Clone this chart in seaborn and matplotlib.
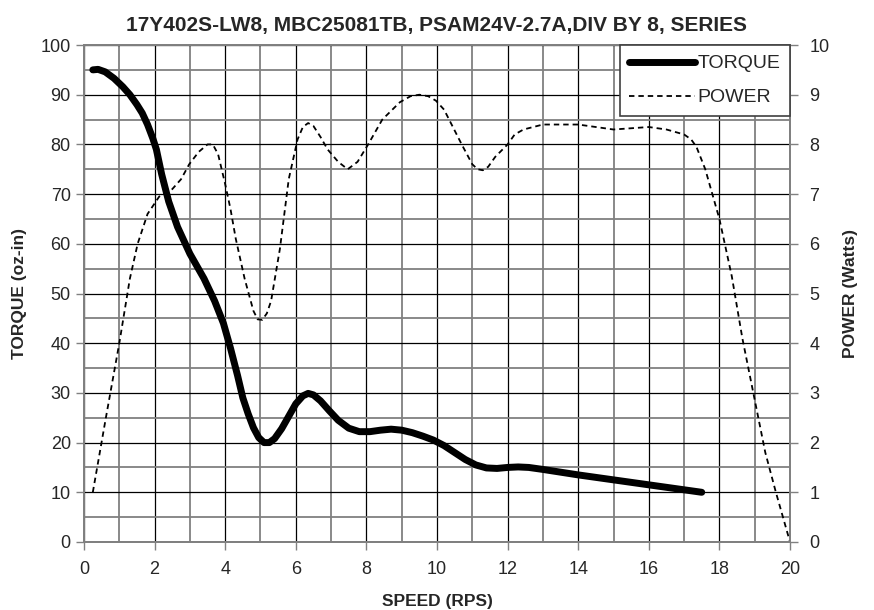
import seaborn as sns
import matplotlib.pyplot as plt
import pandas as pd
from matplotlib.ticker import MultipleLocator

# torque curve (oz-in) vs speed (RPS)
torque_speed = [0.25, 0.4, 0.6, 0.85, 1.1, 1.3, 1.5, 1.65, 1.8, 1.95, 2.05, 2.2, 2.4, 2.65,
                3.0, 3.4, 3.7, 3.95, 4.15, 4.35, 4.5, 4.65, 4.8, 4.95, 5.1, 5.25, 5.4, 5.6,
                5.8, 6.0, 6.2, 6.35, 6.5, 6.7, 6.95, 7.2, 7.5, 7.8, 8.1, 8.4, 8.7, 9.0,
                9.3, 9.6, 9.9, 10.2, 10.5, 10.8, 11.1, 11.4, 11.7, 12.0, 12.3, 12.6, 13.0,
                14.0, 15.0, 16.0, 17.0, 17.5]
torque = [95, 95.1, 94.6, 93.3, 91.6, 90, 88, 86.3, 84, 81.2, 79, 74, 68.5, 63.4,
          58, 53, 48.5, 44, 39, 33.5, 29, 25.8, 23, 21, 20, 20, 20.8, 22.8,
          25.3, 27.8, 29.4, 29.9, 29.6, 28.4, 26.4, 24.5, 22.9, 22.2, 22.2, 22.5, 22.7, 22.5,
          22, 21.3, 20.5, 19.4, 18, 16.6, 15.5, 14.9, 14.8, 15, 15.1, 15, 14.6,
          13.5, 12.5, 11.5, 10.5, 10]

# power curve (Watts) vs speed (RPS)
power_speed = [0.25, 0.62, 1.0, 1.3, 1.52, 1.8, 2.13, 2.5, 2.75, 2.98, 3.25, 3.5, 3.65, 3.8,
               4.0, 4.15, 4.3, 4.55, 4.8, 4.92, 5.05, 5.18, 5.3, 5.55, 5.8, 6.05, 6.2,
               6.35, 6.5, 6.7, 6.9, 7.2, 7.47, 7.75, 8.05, 8.45, 8.95, 9.25, 9.5, 9.75,
               9.97, 10.2, 10.45, 10.7, 11.0, 11.15, 11.3, 11.45, 11.65, 12.0, 12.2, 12.45,
               13.0, 14.0, 15.0, 16.0, 16.5, 17.0, 17.2, 17.35, 17.6, 18.0, 18.35, 18.65,
               19.0, 19.3, 19.6, 20.0]
power = [1.0, 2.5, 4.0, 5.3, 6.0, 6.6, 6.95, 7.1, 7.3, 7.6, 7.85, 8.0, 8.0, 7.8,
         7.2, 6.7, 6.1, 5.3, 4.65, 4.48, 4.47, 4.6, 4.85, 5.9, 7.3, 8.1, 8.35,
         8.43, 8.37, 8.15, 7.9, 7.65, 7.5, 7.65, 8.0, 8.5, 8.85, 8.97, 9.0, 8.97,
         8.88, 8.7, 8.35, 8.0, 7.6, 7.5, 7.48, 7.55, 7.75, 8.0, 8.2, 8.3,
         8.4, 8.4, 8.3, 8.35, 8.3, 8.2, 8.1, 7.95, 7.5, 6.5, 5.35, 4.1,
         2.86, 1.8, 1.0, 0.0]

df_t = pd.DataFrame({"speed": torque_speed, "torque": torque})
df_p = pd.DataFrame({"speed": power_speed, "power": power})

sns.set_style("white")
plt.rcParams["font.family"] = ["Liberation Sans", "DejaVu Sans"]

fig = plt.figure(figsize=(8.74, 6.10), dpi=100)
ax = fig.add_axes([0.0961, 0.1115, 0.8078, 0.8147])

# grid
ax.set_xlim(0, 20)
ax.set_ylim(0, 100)
ax.xaxis.set_major_locator(MultipleLocator(2))
ax.xaxis.set_minor_locator(MultipleLocator(1))
ax.yaxis.set_major_locator(MultipleLocator(10))
ax.yaxis.set_minor_locator(MultipleLocator(5))
ax.grid(which="major", color="black", linewidth=0.9)
ax.grid(which="minor", color="#808080", linewidth=1.3)
ax.set_axisbelow(True)

sns.lineplot(data=df_t, x="speed", y="torque", ax=ax, color="black", linewidth=5,
             solid_capstyle="round", solid_joinstyle="round", sort=False,
             label="TORQUE", legend=False)

ax2 = ax.twinx()
ax2.set_ylim(0, 10)
ax2.yaxis.set_major_locator(MultipleLocator(1))
sns.lineplot(data=df_p, x="speed", y="power", ax=ax2, color="black", linewidth=1.3,
             linestyle=(0, (3, 2.2)), sort=False, label="POWER", legend=False)
ax2.grid(False)

for a in (ax, ax2):
    for s in a.spines.values():
        s.set_color("#808080")
        s.set_linewidth(1.3)
    a.tick_params(which="major", length=6, width=1, color="#808080", labelsize=13)
    a.tick_params(which="minor", length=0)
ax.tick_params(axis="both", which="major", direction="out", left=True, bottom=True)
ax2.tick_params(axis="y", which="major", direction="out", right=True, pad=8)
ax.tick_params(axis="x", pad=8)

ax.set_xlabel("SPEED (RPS)", fontsize=12.5, fontweight="bold", labelpad=11)
ax.set_ylabel("TORQUE (oz-in)", fontsize=12.5, fontweight="bold", labelpad=10)
ax2.set_ylabel("POWER (Watts)", fontsize=12.5, fontweight="bold", labelpad=10)
ax.set_title("17Y402S-LW8, MBC25081TB, PSAM24V-2.7A,DIV BY 8, SERIES",
             fontsize=15, fontweight="bold", pad=10)

h1, l1 = ax.get_legend_handles_labels()
h2, l2 = ax2.get_legend_handles_labels()
leg = ax2.legend(h1 + h2, l1 + l2, loc="upper right", borderaxespad=0,
                 fontsize=14, frameon=True, fancybox=False, framealpha=1,
                 handlelength=3.4, handletextpad=0.1, borderpad=0.5, labelspacing=0.85)
leg.get_frame().set_edgecolor("#404040")
leg.get_frame().set_linewidth(1.2)

fig.savefig("out.png", dpi=100)
